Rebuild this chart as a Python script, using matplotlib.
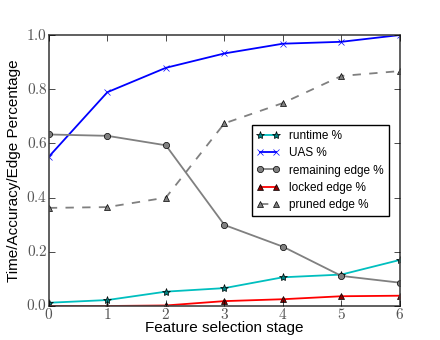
import matplotlib
matplotlib.use("Agg")
from matplotlib import pyplot as plt

plt.style.use("classic")
plt.rcParams["mathtext.fontset"] = "cm"
plt.rcParams["font.family"] = ["Liberation Sans", "DejaVu Sans"]

stage = [0, 1, 2, 3, 4, 5, 6]
runtime = [0.012, 0.022, 0.053, 0.066, 0.106, 0.116, 0.170]
uas = [0.551, 0.789, 0.879, 0.932, 0.968, 0.975, 1.0]
remaining = [0.633, 0.628, 0.593, 0.299, 0.219, 0.111, 0.086]
locked = [0.0, 0.0, 0.002, 0.018, 0.025, 0.036, 0.038]
pruned = [0.362, 0.365, 0.400, 0.674, 0.749, 0.849, 0.867]

fig = plt.figure(figsize=(4.4, 3.4), dpi=100)
fig.patch.set_facecolor("white")
ax = fig.add_axes([0.111, 0.1, 0.798, 0.797])

ax.plot(stage, runtime, color="c", marker="*", markersize=6, markeredgecolor="k",
        markerfacecolor="teal", linewidth=1.3, label="runtime %")
ax.plot(stage, uas, color="b", marker="x", markersize=5, markeredgecolor="b",
        linewidth=1.3, label="UAS %")
ax.plot(stage, remaining, color="gray", marker="o", markersize=4.5, markeredgecolor="k",
        markerfacecolor="gray", linewidth=1.3, label="remaining edge %")
ax.plot(stage, locked, color="r", marker="^", markersize=5, markeredgecolor="k",
        markerfacecolor="darkred", linewidth=1.3, label="locked edge %")
ax.plot(stage, pruned, color="gray", marker="^", markersize=5, markeredgecolor="k",
        markerfacecolor="gray", linewidth=1.3, linestyle="--", label="pruned edge %")

ax.set_xlim(0, 6)
ax.set_ylim(0, 1.0)
ax.set_xticks(stage)
ax.set_xticklabels([r"$%d$" % s for s in stage])
yt = [0.0, 0.2, 0.4, 0.6, 0.8, 1.0]
ax.set_yticks(yt)
ax.set_yticklabels([r"$%.1f$" % v for v in yt])
ax.tick_params(labelsize=11, pad=1, labelcolor="#555555")
for s in ax.spines.values():
    s.set_color("#444444")
    s.set_linewidth(1.2)

ax.set_xlabel("Feature selection stage", fontsize=11, labelpad=-1)
ax.set_ylabel("Time/Accuracy/Edge Percentage", fontsize=11, labelpad=4)

leg = ax.legend(loc="center right", bbox_to_anchor=(0.985, 0.5), fontsize=8.5,
                numpoints=2, handlelength=2.0, borderpad=0.4, labelspacing=0.45)
leg.get_frame().set_linewidth(1.0)

fig.savefig("out.png", dpi=100)
